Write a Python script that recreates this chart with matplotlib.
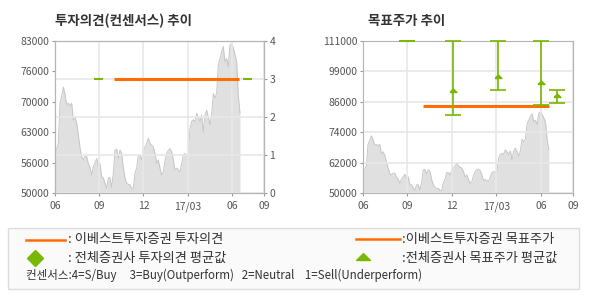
import matplotlib
matplotlib.use('Agg')
import matplotlib.pyplot as plt
from matplotlib.lines import Line2D
from matplotlib.patches import Rectangle
import numpy as np

plt.rcParams['font.family'] = ['Noto Sans CJK KR', 'DejaVu Sans']

# share price, evenly sampled from 2016-06 to mid 2017-06
price = [58700, 59500, 60800, 69500, 71000, 73000, 71500, 69100, 69500, 68900,
         69500, 65800, 66500, 65200, 62600, 59800, 57900, 57200, 58000, 57900,
         56400, 55500, 53900, 55700, 56500, 57500, 55700, 56400, 53500, 53300,
         52100, 51000, 53300, 53300, 51200, 54300, 59300, 59500, 57500, 59300,
         58700, 55400, 53300, 52100, 51900, 51800, 51000, 51000, 54300, 55400,
         58200, 58200, 57200, 59300, 60000, 60800, 61900,
         60800, 60400, 60000, 58600, 56400, 57200, 55400, 53900, 54600, 57000,
         58600, 59300, 59600, 59000, 57200, 55000, 55400, 55000, 54600, 56400,
         58200, 58600, 58200, 58600, 64000, 65500, 65900, 65500, 67300, 66500,
         65500, 66900, 63300, 66900, 68000, 66500, 64800, 66900, 71600, 70600,
         71600, 77800, 79200, 80700, 81800, 78500, 79200, 77400, 82100, 82500,
         81500, 80100, 78500, 71300, 67300]
price_first_month = 0.0      # months since 2016-06
price_last_month = 12.54

x_ticks = [0, 3, 6, 9, 12, 14.17]
x_labels = ['06', '09', '12', '17/03', '06', '09']

# investment opinion (rating scale 0-4)
opinion = 3
opinion_span = (4.0, 12.47)
cons_opinion = 3
cons_opinion_spans = [(2.64, 3.23), (12.72, 13.33)]
left_yticks = [50000, 56600, 63200, 69800, 76400, 83000]
left_ylabels = ['50000', '56000', '63000', '70000', '76000', '83000']

# target price
target = 85000
target_span = (4.05, 12.56)
cons_month = [3.0, 6.06, 9.1, 12.02, 13.1]
cons_high = [111000, 111000, 111000, 111000, 91200]
cons_low = [111000, 81300, 91300, 85500, 86000]
cons_avg = [np.nan, 90650, 96300, 93700, 88500]
right_yticks = [50000, 62200, 74400, 86600, 98800, 111000]
right_ylabels = ['50000', '62000', '74000', '86000', '99000', '111000']

ORANGE = '#ff6c00'
GREEN = '#77b800'
GRID = '#e8e8e8'
SPINE = '#b4b4b4'
TXT = '#555555'

W, H = 590, 300
fig = plt.figure(figsize=(W / 100, H / 100), dpi=100)


def px_box(x0, y0, x1, y1):
    return [x0 / W, 1 - y1 / H, (x1 - x0) / W, (y1 - y0) / H]


def style(ax):
    for s in ax.spines.values():
        s.set_color(SPINE)
    ax.tick_params(length=2.5, color='#999999', labelcolor=TXT, labelsize=7.5, pad=1.5)
    ax.tick_params(axis='x', pad=3.5)


def draw_price(ax, ylim):
    x = np.linspace(price_first_month, price_last_month, len(price))
    ax.fill_between(x, price, ylim[0], color='#e0e0e0', lw=0, zorder=1)
    ax.plot(x, price, color='#c6c6c6', lw=0.7, zorder=1.2)
    ax.set_ylim(*ylim)
    ax.set_xlim(x_ticks[0], x_ticks[-1])
    ax.set_xticks(x_ticks)
    ax.set_xticklabels(x_labels)
    ax.grid(axis='x', color=GRID, lw=1.2)


# small flat triangle used for averages
flat_tri = [(-1, 0), (1, 0), (0, 1), (-1, 0)]

# left chart: opinion
ax1 = fig.add_axes(px_box(55, 41, 264, 193))
draw_price(ax1, (50000, 83000))
ax1.set_yticks(left_yticks)
ax1.set_yticklabels(left_ylabels)
style(ax1)

ax1b = ax1.twinx()
ax1b.set_ylim(0, 4)
ax1b.set_yticks([0, 1, 2, 3, 4])
ax1b.grid(axis='y', color=GRID, lw=1.2)
ax1b.hlines(opinion, *opinion_span, color=ORANGE, lw=2.2, zorder=3)
for a, b in cons_opinion_spans:
    ax1b.hlines(cons_opinion, a, b, color=GREEN, lw=1.5, zorder=3)
style(ax1b)

# right chart: target price
ax2 = fig.add_axes(px_box(363, 41, 573, 193))
draw_price(ax2, (50000, 111000))
ax2.set_yticks(right_yticks)
ax2.set_yticklabels(right_ylabels)
ax2.grid(axis='y', color=GRID, lw=1.2)
style(ax2)
ax2.hlines(target, *target_span, color=ORANGE, lw=2.2, zorder=3)
hi = np.array(cons_high)
lo = np.array(cons_low)
ax2.errorbar(cons_month, (hi + lo) / 2, yerr=(hi - lo) / 2, fmt='none',
             ecolor=GREEN, elinewidth=1.2, capsize=6, capthick=1.2, zorder=4,
             clip_on=False)
ax2.plot(cons_month, cons_avg, ls='none', marker=flat_tri, ms=5, color=GREEN, zorder=5)

# titles
fig.text(55 / W, 1 - 21 / H, '투자의견(컨센서스) 추이', fontsize=9.7,
         fontweight='bold', color='#333333', va='center')
fig.text(368 / W, 1 - 21 / H, '목표주가 추이', fontsize=9.7,
         fontweight='bold', color='#333333', va='center')

# legend box
fig.add_artist(Rectangle((8 / W, 1 - 289 / H), 571 / W, 61 / H,
                         transform=fig.transFigure, facecolor='#fafafa',
                         edgecolor='#dcdcdc', lw=1))


def fx(x):
    return x / W


def fy(y):
    return 1 - y / H


fig.add_artist(Line2D([fx(26), fx(65)], [fy(239.5), fy(239.5)], color=ORANGE, lw=1.8))
fig.add_artist(Line2D([fx(356), fx(400)], [fy(238.5), fy(238.5)], color=ORANGE, lw=1.8))
fig.add_artist(Line2D([fx(35)], [fy(257.7)], marker='D', ms=8, color=GREEN, ls='none'))
fig.add_artist(Line2D([fx(363)], [fy(260)], marker=flat_tri, ms=10, color=GREEN, ls='none'))

lkw = dict(fontsize=9.5, color='#333333', va='center')
fig.text(fx(68), fy(240), ': 이베스트투자증권 투자의견', **lkw)
fig.text(fx(68), fy(258), ': 전체증권사 투자의견 평균값', **lkw)
fig.text(fx(402), fy(240), ':이베스트투자증권 목표주가', **lkw)
fig.text(fx(402), fy(258), ':전체증권사 목표주가 평균값', **lkw)
fig.text(fx(26), fy(275.5),
         '컨센서스:4=S/Buy     3=Buy(Outperform)   2=Neutral    1=Sell(Underperform)',
         fontsize=8.3, color='#333333', va='center')

fig.savefig('out.png', dpi=100)
